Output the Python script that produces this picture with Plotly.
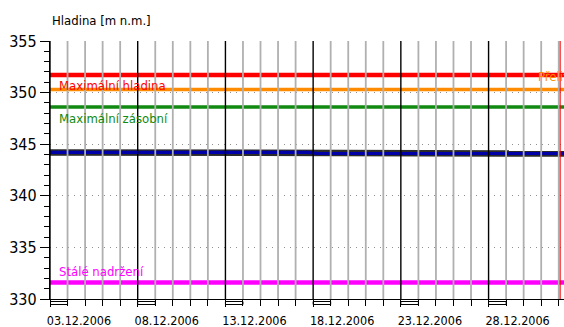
import pandas as pd
import plotly.graph_objects as go

# ---- data ----
dates = ["2006-12-03", "2006-12-08", "2006-12-13", "2006-12-17 18:00",
         "2006-12-18 06:00", "2006-12-23", "2006-12-28", "2007-01-01 07:12"]
hladina = [344.2, 344.2, 344.2, 344.2, 344.1, 344.1, 344.1, 344.1]

level_names = ["Maximální hladina", "Přeliv", "Maximální zásobní", "Stálé nadržení"]
level_values = [351.7, 350.3, 348.6, 331.6]
level_colors = ["#ff0000", "#ff8c00", "#108a10", "#ff00ff"]
level_widths = [4.5, 3.5, 3.5, 4.5]

x_start = "2006-12-03"
x_end = "2007-01-01 07:12"
now_mark = "2007-01-01 02:00"
y_range = [330, 355]
y_title = "Hladina [m n.m.]"

FONT = "DejaVu Sans Condensed, Liberation Sans Narrow, Arial Narrow, sans-serif"

fig = go.Figure()

# level lines
for name, val, col, w in zip(level_names, level_values, level_colors, level_widths):
    fig.add_trace(go.Scatter(x=[x_start, x_end], y=[val, val], mode="lines",
                             line=dict(color=col, width=w), name=name,
                             showlegend=False, hoverinfo="skip"))

# water level: dark outline + blue core
fig.add_trace(go.Scatter(x=dates, y=hladina, mode="lines",
                         line=dict(color="#2a2a2a", width=6.5), showlegend=False))
fig.add_trace(go.Scatter(x=dates, y=hladina, mode="lines",
                         line=dict(color="#0000a8", width=3.2), showlegend=False))

# vertical day lines drawn above traces
shapes = []
days = pd.date_range(x_start, "2007-01-01", freq="D")
for i, d in enumerate(days):
    major = (i % 5 == 0)
    shapes.append(dict(type="line", xref="x", yref="paper", x0=d, x1=d, y0=0, y1=1,
                       layer="above",
                       line=dict(color="#000000" if major else "#b0b0b0",
                                 width=1.4 if major else 1.8)))
    if major:
        shapes.append(dict(type="rect", xref="x", yref="paper", x0=d, x1=d + pd.Timedelta(days=1),
                           y0=-2.5 / 258, y1=-5.5 / 258, layer="above",
                           line=dict(color="#000000", width=1), fillcolor="rgba(0,0,0,0)"))
shapes.append(dict(type="line", xref="x", yref="paper", x0=now_mark, x1=now_mark, y0=0, y1=1,
                   layer="above", line=dict(color="#ff0000", width=1)))
fig.update_layout(shapes=shapes)

annotations = [
    dict(text=y_title, xref="paper", yref="paper", x=0, y=1 + 21 / 258, xanchor="left",
         yanchor="middle", showarrow=False, font=dict(size=13, color="#000000", family=FONT)),
    dict(text=level_names[0], xref="paper", yref="y", x=7 / 514, y=350.65, xanchor="left",
         yanchor="middle", showarrow=False, font=dict(size=13, color=level_colors[0], family=FONT)),
    dict(text=level_names[2], xref="paper", yref="y", x=7 / 514, y=347.5, xanchor="left",
         yanchor="middle", showarrow=False, font=dict(size=13, color=level_colors[2], family=FONT)),
    dict(text=level_names[3], xref="paper", yref="y", x=7 / 514, y=332.7, xanchor="left",
         yanchor="middle", showarrow=False, font=dict(size=13, color=level_colors[3], family=FONT)),
    dict(text=level_names[1], xref="paper", yref="y", x=486 / 514, y=351.55, xanchor="left",
         yanchor="middle", showarrow=False, font=dict(size=13, color=level_colors[1], family=FONT)),
]
fig.update_layout(annotations=annotations)

fig.update_layout(
    width=564, height=327,
    margin=dict(l=50, r=0, t=41, b=28),
    paper_bgcolor="#ffffff", plot_bgcolor="#ffffff",
    font=dict(family=FONT, color="#000000"),
    xaxis=dict(type="date", range=[x_start, x_end], tick0=x_start, dtick=5 * 86400000,
               tickformat="%d.%m.%Y", showgrid=False, zeroline=False, automargin=False,
               showline=True, linecolor="#000000", linewidth=1.3,
               ticks="outside", ticklen=7, tickcolor="#000000", tickwidth=1.3,
               ticklabelshift=29, ticklabelstandoff=3, tickfont=dict(size=12.5, family=FONT),
               minor=dict(dtick=86400000, tick0=x_start, ticks="outside", ticklen=6,
                          tickcolor="#000000", tickwidth=1, showgrid=False),
               fixedrange=True),
    yaxis=dict(range=y_range, dtick=5, tick0=330, showgrid=True, gridcolor="#909090",
               griddash="1px,5px", gridwidth=1, zeroline=False, automargin=False,
               showline=True, linecolor="#000000", linewidth=1.3,
               ticks="outside", ticklen=9, tickcolor="#000000", tickwidth=1.3,
               tickfont=dict(size=16, family=FONT),
               minor=dict(dtick=1, ticks="outside", ticklen=5, tickcolor="#000000",
                          tickwidth=1, showgrid=False),
               fixedrange=True),
    showlegend=False,
)

fig.write_html("out.html", config={"displayModeBar": False},
               post_script="document.body.style.margin='0';document.body.style.overflow='hidden';")
